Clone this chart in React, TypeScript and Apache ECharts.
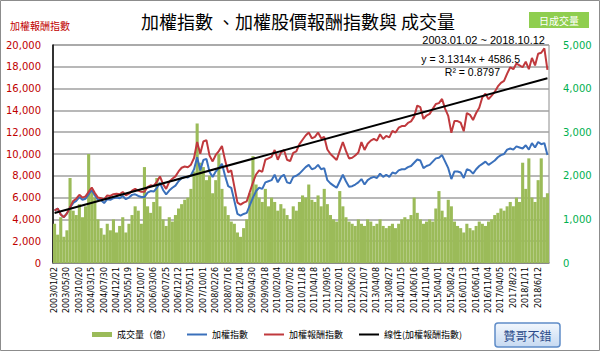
import React, { useEffect, useRef } from 'react';
import * as echarts from 'echarts';

const tickLabels = [
  '2003/01/02', '2003/05/30', '2003/10/20', '2004/03/15', '2004/07/30', '2004/12/21', '2005/05/19', '2005/10/07',
  '2006/03/06', '2006/07/25', '2006/12/12', '2007/05/11', '2007/10/01', '2008/02/26', '2008/07/16', '2008/12/04',
  '2009/04/30', '2009/09/18', '2010/02/04', '2010/07/02', '2010/11/18', '2011/04/18', '2011/09/05', '2012/02/01',
  '2012/06/20', '2012/11/07', '2013/04/08', '2013/08/27', '2014/01/15', '2014/06/16', '2014/11/04', '2015/04/01',
  '2015/08/24', '2016/01/13', '2016/06/14', '2016/11/04', '2017/04/05', '2017/8/23', '2018/1/11', '2018/6/12',
];

// 成交量（億）
const volume = [
  900, 650, 1050, 600, 750, 1950, 1200, 1100, 1350, 1050,
  1300, 2500, 1650, 1500, 1000, 800, 650, 900, 750, 1000,
  700, 850, 1050, 700, 900, 1100, 1300, 1200, 900, 2200,
  1300, 1150, 1400, 1950, 1300, 1000, 850, 1050, 950, 1100,
  1250, 1350, 1450, 1500, 1700, 2100, 3200, 2300, 2200, 1900,
  2000, 1600, 1900, 2500, 1700, 1300, 1100, 950, 900, 700,
  600, 800, 1000, 1600, 2450, 1800, 1500, 1400, 1700, 1300,
  1500, 1400, 1200, 1350, 1250, 1100, 1000, 1300, 1200, 1400,
  1550, 1500, 1800, 1450, 1400, 1550, 1300, 1700, 1350, 1100,
  1000, 950, 1650, 1300, 1050, 950, 900, 850, 1000, 900,
  850, 1000, 950, 850, 900, 1000, 850, 800, 850, 900,
  800, 900, 1000, 1050, 1000, 1100, 1500, 1150, 1000, 900,
  950, 1000, 950, 1250, 1650, 1200, 1050, 1450, 1300, 950,
  850, 800, 700, 900, 800, 750, 850, 950, 900, 850,
  950, 1000, 1100, 1150, 1250, 1200, 1300, 1400, 1300, 1500,
  1400, 2300, 1700, 2400, 1500, 1400, 1900, 2400, 1500, 1600,
];

// 加權指數
const taiex = [
  4800, 5000, 4450, 4200, 4550, 5100, 5500, 5700, 6050, 5800,
  5900, 6300, 6700, 6200, 5800, 5750, 5500, 5850, 5800, 5950,
  6000, 5950, 6150, 5850, 6000, 6250, 6300, 6150, 6050, 6050,
  6450, 6600, 6550, 6900, 7350, 6700, 6300, 6650, 6900, 7100,
  7500, 7800, 7900, 7850, 8050, 8600, 9700, 8500, 9450, 9550,
  8350, 7900, 8400, 8700, 9100, 8000, 7050, 6900, 5700, 4500,
  4350, 4500, 4600, 5300, 6000, 6600, 6900, 6800, 7400, 7500,
  7600, 8100, 7400, 7900, 8100, 7400, 7300, 7900, 8000, 8200,
  8500, 8800, 9000, 8600, 8700, 9000, 8600, 8700, 7600, 7300,
  7100, 6900, 7500, 8100, 7500, 7000, 7050, 7200, 7400, 7700,
  7200, 7600, 7800, 7900, 7800, 8200, 7900, 8100, 7900, 8300,
  8200, 8500, 8600, 8600, 8800, 8900, 9200, 9500, 9400, 8700,
  8900, 9000, 9300, 9600, 9650, 9900, 9300, 8700, 7700, 8400,
  8400, 8300, 7800, 8600, 8500, 8200, 8600, 8900, 9100, 9300,
  9000, 9200, 9400, 9700, 9900, 10000, 10400, 10500, 10400, 10700,
  10600, 10500, 10800, 10400, 11000, 10600, 11100, 10900, 11000, 9900,
];

// 加權報酬指數
const totalReturn = [
  4800, 5000, 4450, 4200, 4550, 5100, 5690, 5900, 6260, 6000,
  6110, 6520, 6930, 6420, 6000, 5950, 5830, 6200, 6150, 6310,
  6360, 6310, 6520, 6200, 6360, 6630, 6800, 6640, 6530, 6530,
  6970, 7130, 7070, 7450, 7940, 7240, 6800, 7450, 7730, 7950,
  8400, 8740, 8850, 8790, 9020, 9630, 11100, 10030, 11150, 11270,
  9850, 9320, 9910, 10270, 10740, 9440, 8320, 8490, 7010, 5540,
  5350, 5540, 5660, 6520, 7380, 8120, 8490, 8360, 9470, 9600,
  9730, 10370, 9470, 10110, 10370, 9470, 9340, 10110, 10240, 10910,
  11310, 11700, 11970, 11440, 11570, 11970, 11440, 11570, 10410, 10000,
  9730, 9450, 10280, 11100, 10280, 9590, 9660, 9860, 10140, 11090,
  10370, 10940, 11230, 11380, 11230, 11810, 11380, 11660, 11530, 12120,
  11970, 12410, 12560, 12560, 12850, 12990, 13430, 14440, 14290, 13220,
  13530, 13680, 14140, 14590, 14670, 15050, 14140, 13490, 11940, 13020,
  13020, 12870, 12090, 13760, 13600, 13120, 13760, 14240, 15200, 15530,
  15030, 15360, 15700, 16200, 16530, 16700, 17370, 17960, 17780, 18300,
  18130, 17960, 18470, 17780, 18810, 18130, 19200, 19290, 19690, 17720,
];

// 線性(加權報酬指數) end points
const trendStart = 4590;
const trendEnd = 16950;

const CJK = '"Noto Sans CJK TC", "Noto Sans CJK SC", sans-serif';
const fmt = (v: number) => v.toLocaleString('en-US');
const lineIcon = 'path://M0,0 L20,0 L20,2 L0,2 Z';

export default function App() {
  const ref = useRef<HTMLDivElement>(null);
  useEffect(() => {
    const chart = echarts.init(ref.current!, null, { renderer: 'svg' });
    const n = taiex.length;
    const cats = taiex.map((_, i) => String(i));
    const trend = cats.map((_, i) => (i === 0 ? trendStart : i === n - 1 ? trendEnd : null));
    chart.setOption({
      animation: false,
      backgroundColor: '#ffffff',
      textStyle: { fontFamily: '"DejaVu Sans", sans-serif' },
      grid: {
        left: 53, right: 51, top: 45, bottom: 88,
        show: true, borderColor: '#8c8c8c', borderWidth: 1, backgroundColor: 'transparent',
      },
      legend: {
        left: 92, top: 330, padding: 0, itemWidth: 20, itemHeight: 5, itemGap: 16,
        textStyle: { fontSize: 9, fontFamily: CJK, color: '#000' },
        data: [
          { name: '成交量（億）', icon: 'rect' },
          { name: '加權指數', icon: lineIcon },
          { name: '加權報酬指數', icon: lineIcon },
          { name: '線性(加權報酬指數)', icon: lineIcon },
        ],
      },
      xAxis: {
        type: 'category', data: cats, boundaryGap: true,
        axisLine: { lineStyle: { color: '#7f7f7f', width: 1.5 } },
        axisTick: { show: false },
        axisLabel: {
          interval: 3, rotate: 90, margin: 4, fontSize: 8, color: '#000',
          formatter: (_v: string, idx: number) => tickLabels[idx / 4] ?? '',
        },
        splitLine: { show: false },
      },
      yAxis: [
        {
          type: 'value', min: 0, max: 20000, interval: 2000, position: 'left',
          axisLine: { show: true, lineStyle: { color: '#000', width: 1.5 } },
          axisTick: { show: false },
          axisLabel: { color: '#c00000', fontSize: 10, margin: 12, formatter: fmt },
          splitLine: { lineStyle: { color: '#a0a0a0', width: 1.5 } },
        },
        {
          type: 'value', min: 0, max: 5000, interval: 1000, position: 'right',
          axisLine: { show: false },
          axisTick: { show: false },
          axisLabel: { color: '#00b050', fontSize: 10, margin: 14, formatter: fmt },
          splitLine: { show: false },
        },
      ],
      series: [
        {
          name: '成交量（億）', type: 'bar', yAxisIndex: 1, data: volume,
          barCategoryGap: '0%', itemStyle: { color: '#9bbb59' },
        },
        {
          name: '加權指數', type: 'line', data: taiex, symbol: 'none',
          lineStyle: { color: '#3a70bb', width: 2 }, itemStyle: { color: '#3a70bb' },
        },
        {
          name: '加權報酬指數', type: 'line', data: totalReturn, symbol: 'none',
          lineStyle: { color: '#c0393d', width: 2 }, itemStyle: { color: '#c0393d' },
        },
        {
          name: '線性(加權報酬指數)', type: 'line', data: trend, connectNulls: true, symbol: 'none',
          lineStyle: { color: '#000', width: 2 }, itemStyle: { color: '#000' }, z: 5,
        },
      ],
      graphic: [
        {
          type: 'rect', silent: true, z: 100,
          shape: { x: 0.5, y: 0.5, width: 599, height: 350 },
          style: { fill: 'none', stroke: '#8c8c8c', lineWidth: 1 },
        },
        {
          type: 'text', x: 298, y: 21,
          style: { text: '加權指數 、加權股價報酬指數與 成交量', fontSize: 18, fontFamily: CJK, fill: '#000', align: 'center', verticalAlign: 'middle' },
        },
        {
          type: 'text', x: 10, y: 25,
          style: { text: '加權報酬指數', fontSize: 10, fontFamily: CJK, fill: '#c00000', align: 'left', verticalAlign: 'middle' },
        },
        {
          type: 'rect', shape: { x: 529, y: 12, width: 60, height: 16 },
          style: { fill: '#8fce4f' },
        },
        {
          type: 'text', x: 559, y: 20,
          style: { text: '日成交量', fontSize: 10, fontFamily: CJK, fill: '#fff', align: 'center', verticalAlign: 'middle' },
        },
        {
          type: 'text', x: 545, y: 40, z: 10,
          style: { text: '2003.01.02 ~ 2018.10.12', fontSize: 11, fontFamily: '"Liberation Sans", sans-serif', fill: '#000', align: 'right', verticalAlign: 'middle' },
        },
        {
          type: 'text', x: 520, y: 59, z: 10,
          style: { text: 'y = 3.1314x + 4586.5', fontSize: 10.5, fontFamily: '"Liberation Sans", sans-serif', fill: '#000', align: 'right', verticalAlign: 'middle' },
        },
        {
          type: 'text', x: 500, y: 72, z: 10,
          style: { text: 'R² = 0.8797', fontSize: 10.5, fontFamily: '"Liberation Sans", sans-serif', fill: '#000', align: 'right', verticalAlign: 'middle' },
        },
        {
          type: 'rect', shape: { x: 495, y: 323, width: 65, height: 24, r: 3 },
          style: {
            fill: new echarts.graphic.LinearGradient(0, 0, 0, 1, [
              { offset: 0, color: '#f2f7fd' },
              { offset: 1, color: '#c6d9f1' },
            ]),
            stroke: '#5f8cc8', lineWidth: 1.5,
          },
        },
        {
          type: 'text', x: 527.5, y: 335,
          style: { text: '贊哥不錯', fontSize: 12, fontFamily: CJK, fill: '#2a4a8a', align: 'center', verticalAlign: 'middle' },
        },
      ],
    });
    return () => chart.dispose();
  }, []);
  return (
    <div
      ref={ref}
      style={{ position: 'absolute', left: 0, top: 0, width: 600, height: 351, background: '#fff' }}
    />
  );
}
